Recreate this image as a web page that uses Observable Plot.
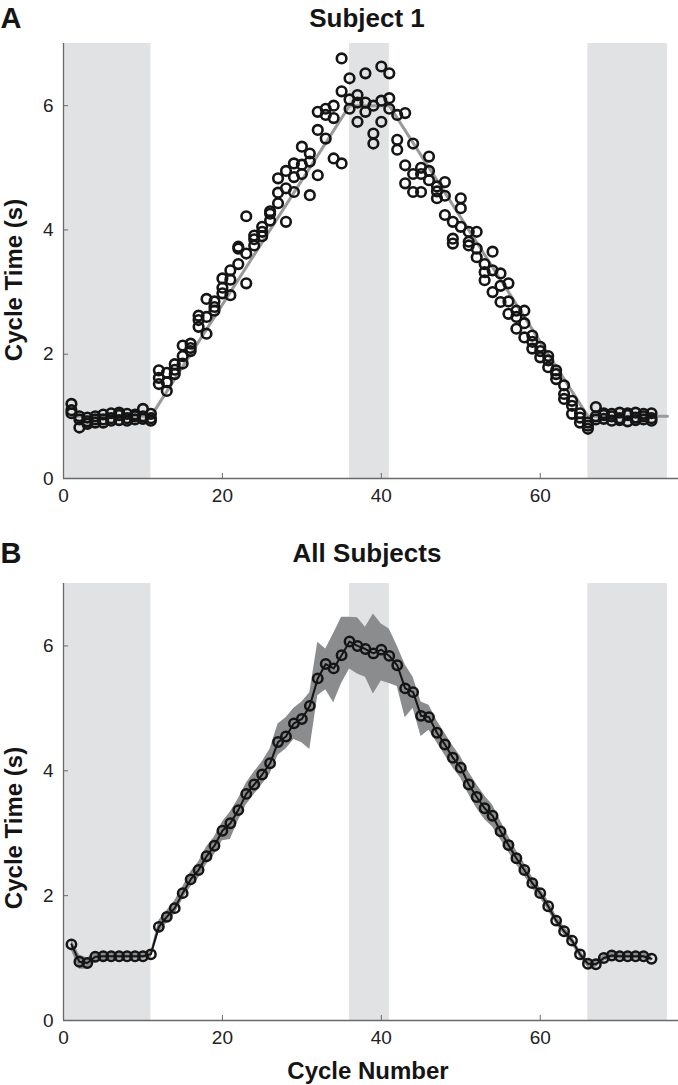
<!DOCTYPE html>
<html>
<head>
<meta charset="utf-8">
<script src="https://cdn.jsdelivr.net/npm/d3@7"></script>
<script src="https://cdn.jsdelivr.net/npm/@observablehq/plot@0.6"></script>
<style>
  html, body { margin: 0; padding: 0; background: #fff; }
  #chart svg { display: block; }
</style>
</head>
<body>
<div id="chart"></div>
<script>
// ---------- data ----------
const xTicks = [0, 20, 40, 60];
const yTicks = [0, 2, 4, 6];
const bandStart = [0, 36, 66];
const bandEnd = [11, 41, 76];

// Subject 1: three cycle-time samples per cycle
const cycles = [1,2,3,4,5,6,7,8,9,10,11,12,13,14,15,16,17,18,19,20,21,22,23,24,25,26,27,28,29,30,31,32,33,34,35,36,37,38,39,40,41,42,43,44,45,46,47,48,49,50,51,52,53,54,55,56,57,58,59,60,61,62,63,64,65,66,67,68,69,70,71,72,73,74];
const rep1 = [1.20,0.82,0.88,0.90,1.03,1.05,1.02,0.97,0.95,1.12,0.97,1.74,1.55,1.84,2.14,2.17,2.62,2.89,2.76,3.22,3.35,3.70,4.22,3.91,3.97,4.26,4.43,4.67,5.07,5.34,5.23,5.90,5.47,5.15,6.76,6.44,6.17,6.52,5.55,6.63,6.52,5.85,5.88,5.39,4.61,5.18,4.51,4.77,4.13,4.51,3.81,3.97,3.32,3.65,2.84,3.14,2.60,2.70,2.09,1.95,1.79,1.60,1.36,1.17,0.90,0.80,1.15,1.05,0.93,1.06,1.02,0.98,1.04,1.05];
const rep2 = [1.10,0.95,0.98,1.00,0.95,0.97,0.94,1.04,1.00,0.96,1.04,1.52,1.41,1.75,1.97,2.05,2.44,2.33,2.85,3.07,2.95,3.73,3.14,3.75,4.05,4.15,4.83,4.13,4.61,4.90,4.56,5.61,5.85,6.00,6.23,6.10,5.74,5.90,5.39,5.74,6.12,5.45,5.04,4.61,4.90,4.80,4.70,4.24,3.86,4.35,3.97,3.56,3.19,3.00,3.30,2.65,2.41,2.27,2.30,2.05,1.97,1.74,1.28,1.04,1.05,0.90,1.00,0.96,1.04,0.97,0.92,1.06,0.95,0.97];
const rep3 = [1.05,1.00,0.92,0.95,0.90,0.93,1.06,0.93,1.03,1.00,0.93,1.62,1.70,1.68,1.85,2.10,2.55,2.60,2.70,2.98,3.20,3.45,3.62,3.85,3.90,4.30,4.60,4.95,4.85,5.05,5.10,4.88,5.95,5.80,5.07,5.95,6.05,6.05,6.00,6.08,5.95,5.29,4.75,4.90,5.00,4.95,4.62,4.55,3.78,4.05,3.75,3.70,3.45,3.35,3.10,2.85,2.70,2.50,2.20,2.12,1.90,1.68,1.50,1.25,0.98,0.85,0.95,1.02,1.00,0.94,1.05,0.94,1.00,0.93];

// Subject 1 piecewise fit
const fitX = [1, 11, 36, 41, 66, 76];
const fitY = [1.0, 1.0, 6.0, 6.0, 1.0, 1.0];

// All subjects: mean and shaded spread per cycle
const meanCT = [1.22,0.94,0.92,1.02,1.03,1.03,1.03,1.03,1.03,1.03,1.06,1.50,1.66,1.80,2.04,2.26,2.41,2.63,2.80,3.04,3.16,3.37,3.63,3.78,3.94,4.12,4.46,4.55,4.76,4.83,5.04,5.48,5.71,5.64,5.85,6.07,6.00,5.95,5.88,5.94,5.84,5.69,5.32,5.26,4.88,4.86,4.61,4.42,4.21,4.05,3.78,3.58,3.40,3.28,3.03,2.81,2.60,2.41,2.20,2.04,1.83,1.60,1.43,1.28,1.06,0.91,0.90,1.00,1.04,1.03,1.03,1.03,1.03,0.99];
const lowCT = [1.12,0.82,0.82,0.94,0.96,0.97,0.98,0.98,0.98,0.98,1.00,1.40,1.56,1.70,1.94,2.14,2.28,2.50,2.66,2.88,2.90,3.20,3.45,3.62,3.78,3.95,4.25,4.35,4.50,4.45,4.34,5.20,5.30,5.09,5.40,5.63,5.55,5.50,5.23,5.44,5.40,5.35,4.85,5.00,4.55,4.65,4.45,4.25,4.05,3.88,3.62,3.40,3.22,3.10,2.90,2.70,2.50,2.32,2.12,1.96,1.76,1.54,1.37,1.22,1.00,0.85,0.85,0.95,0.99,0.98,0.98,0.98,0.98,0.95];
const highCT = [1.30,1.05,1.00,1.08,1.09,1.08,1.08,1.08,1.08,1.08,1.10,1.60,1.76,1.92,2.14,2.38,2.54,2.78,2.94,3.18,3.34,3.55,3.80,3.98,4.14,4.35,4.75,4.85,5.00,5.10,5.25,6.06,5.95,6.20,6.46,6.46,6.45,6.30,6.51,6.35,6.27,6.00,5.70,5.50,5.10,5.05,4.80,4.60,4.40,4.22,3.98,3.78,3.60,3.45,3.20,2.95,2.72,2.52,2.30,2.12,1.92,1.68,1.50,1.35,1.12,0.97,0.96,1.05,1.09,1.08,1.08,1.08,1.08,1.04];

// ---------- derived tables ----------
const bands = bandStart.map((s, i) => ({start: s, end: bandEnd[i]}));
const subject1 = cycles.flatMap((c, i) => [
  {c, v: rep1[i]}, {c, v: rep2[i]}, {c, v: rep3[i]}
]);
const fit = fitX.map((x, i) => ({x, y: fitY[i]}));
const allSubj = cycles.map((c, i) => ({c, m: meanCT[i], lo: lowCT[i], hi: highCT[i]}));

// ---------- styling ----------
const FONT = "'Liberation Sans', Arial, Helvetica, sans-serif";
const W = 678;
const ML = 63, MR = 0, MT = 43;
const axisColor = "#6a6a6a";
const bandFill = "#e1e2e4";
const ink = "#151515";

function panel({height, marginBottom, letter, title, letterDy, titleDy, yLabelDy, xLabel, data}) {
  const innerH = height - MT - marginBottom;
  const innerW = W - ML - MR;
  const marks = [
    Plot.rect(bands, {x1: "start", x2: "end", fill: bandFill}),
    ...data,
    Plot.ruleX([0], {stroke: axisColor, strokeWidth: 1.3}),
    Plot.ruleY([0], {stroke: axisColor, strokeWidth: 1.3}),
    Plot.tickX(xTicks, {x: d => d, insetTop: innerH - 5, stroke: axisColor}),
    Plot.tickY(yTicks, {y: d => d, insetRight: innerW - 5, stroke: axisColor}),
    Plot.axisX({ticks: xTicks, tickFormat: d => String(d), tickSize: 0, tickPadding: 10,
      label: null, fontSize: 19, fill: "#222"}),
    Plot.axisY({ticks: yTicks, tickFormat: d => String(d), tickSize: 0, tickPadding: 10,
      label: null, fontSize: 19, fill: "#222"}),
    Plot.text(["Cycle Time (s)"], {text: d => d, frameAnchor: "left", rotate: -90, dx: -49, dy: yLabelDy,
      textAnchor: "middle", lineAnchor: "middle", fontWeight: "bold", fontSize: 24, fill: ink}),
    Plot.text([title], {text: d => d, frameAnchor: "top", dy: titleDy, dx: -4,
      textAnchor: "middle", lineAnchor: "middle", fontWeight: "bold", fontSize: 26, fill: ink}),
    Plot.text([letter], {text: d => d, frameAnchor: "top-left", dx: -63, dy: letterDy, textAnchor: "start",
      lineAnchor: "middle", fontWeight: "bold", fontSize: 29, fill: ink})
  ];
  if (xLabel) {
    marks.push(Plot.text([xLabel], {text: d => d, frameAnchor: "bottom", dy: 51, dx: -3,
      textAnchor: "middle", lineAnchor: "middle", fontWeight: "bold", fontSize: 24, fill: ink}));
  }
  return Plot.plot({
    width: W, height,
    marginLeft: ML, marginRight: MR, marginTop: MT, marginBottom,
    style: {fontFamily: FONT, background: "#fff", overflow: "visible"},
    x: {domain: [0, 77.4], axis: null},
    y: {domain: [0, 7], axis: null},
    marks
  });
}

const chart = document.getElementById("chart");

chart.append(panel({
  height: 540, marginBottom: 62, letter: "A", title: "Subject 1", letterDy: -25, titleDy: -25, yLabelDy: 19,
  data: [
    Plot.line(fit, {x: "x", y: "y", stroke: "#9a9a9a", strokeWidth: 3}),
    Plot.dot(subject1, {x: "c", y: "v", r: 4.8, stroke: ink, strokeWidth: 2.6, fill: "none"})
  ]
}));

chart.append(panel({
  height: 545, marginBottom: 65, letter: "B", title: "All Subjects", letterDy: -30, titleDy: -30, yLabelDy: 26,
  xLabel: "Cycle Number",
  data: [
    Plot.areaY(allSubj, {x: "c", y1: "lo", y2: "hi", fill: "#8b8c8e"}),
    Plot.line(allSubj, {x: "c", y: "m", stroke: ink, strokeWidth: 2}),
    Plot.dot(allSubj, {x: "c", y: "m", r: 4.7, stroke: ink, strokeWidth: 2.5, fill: "none"})
  ]
}));
</script>
</body>
</html>
